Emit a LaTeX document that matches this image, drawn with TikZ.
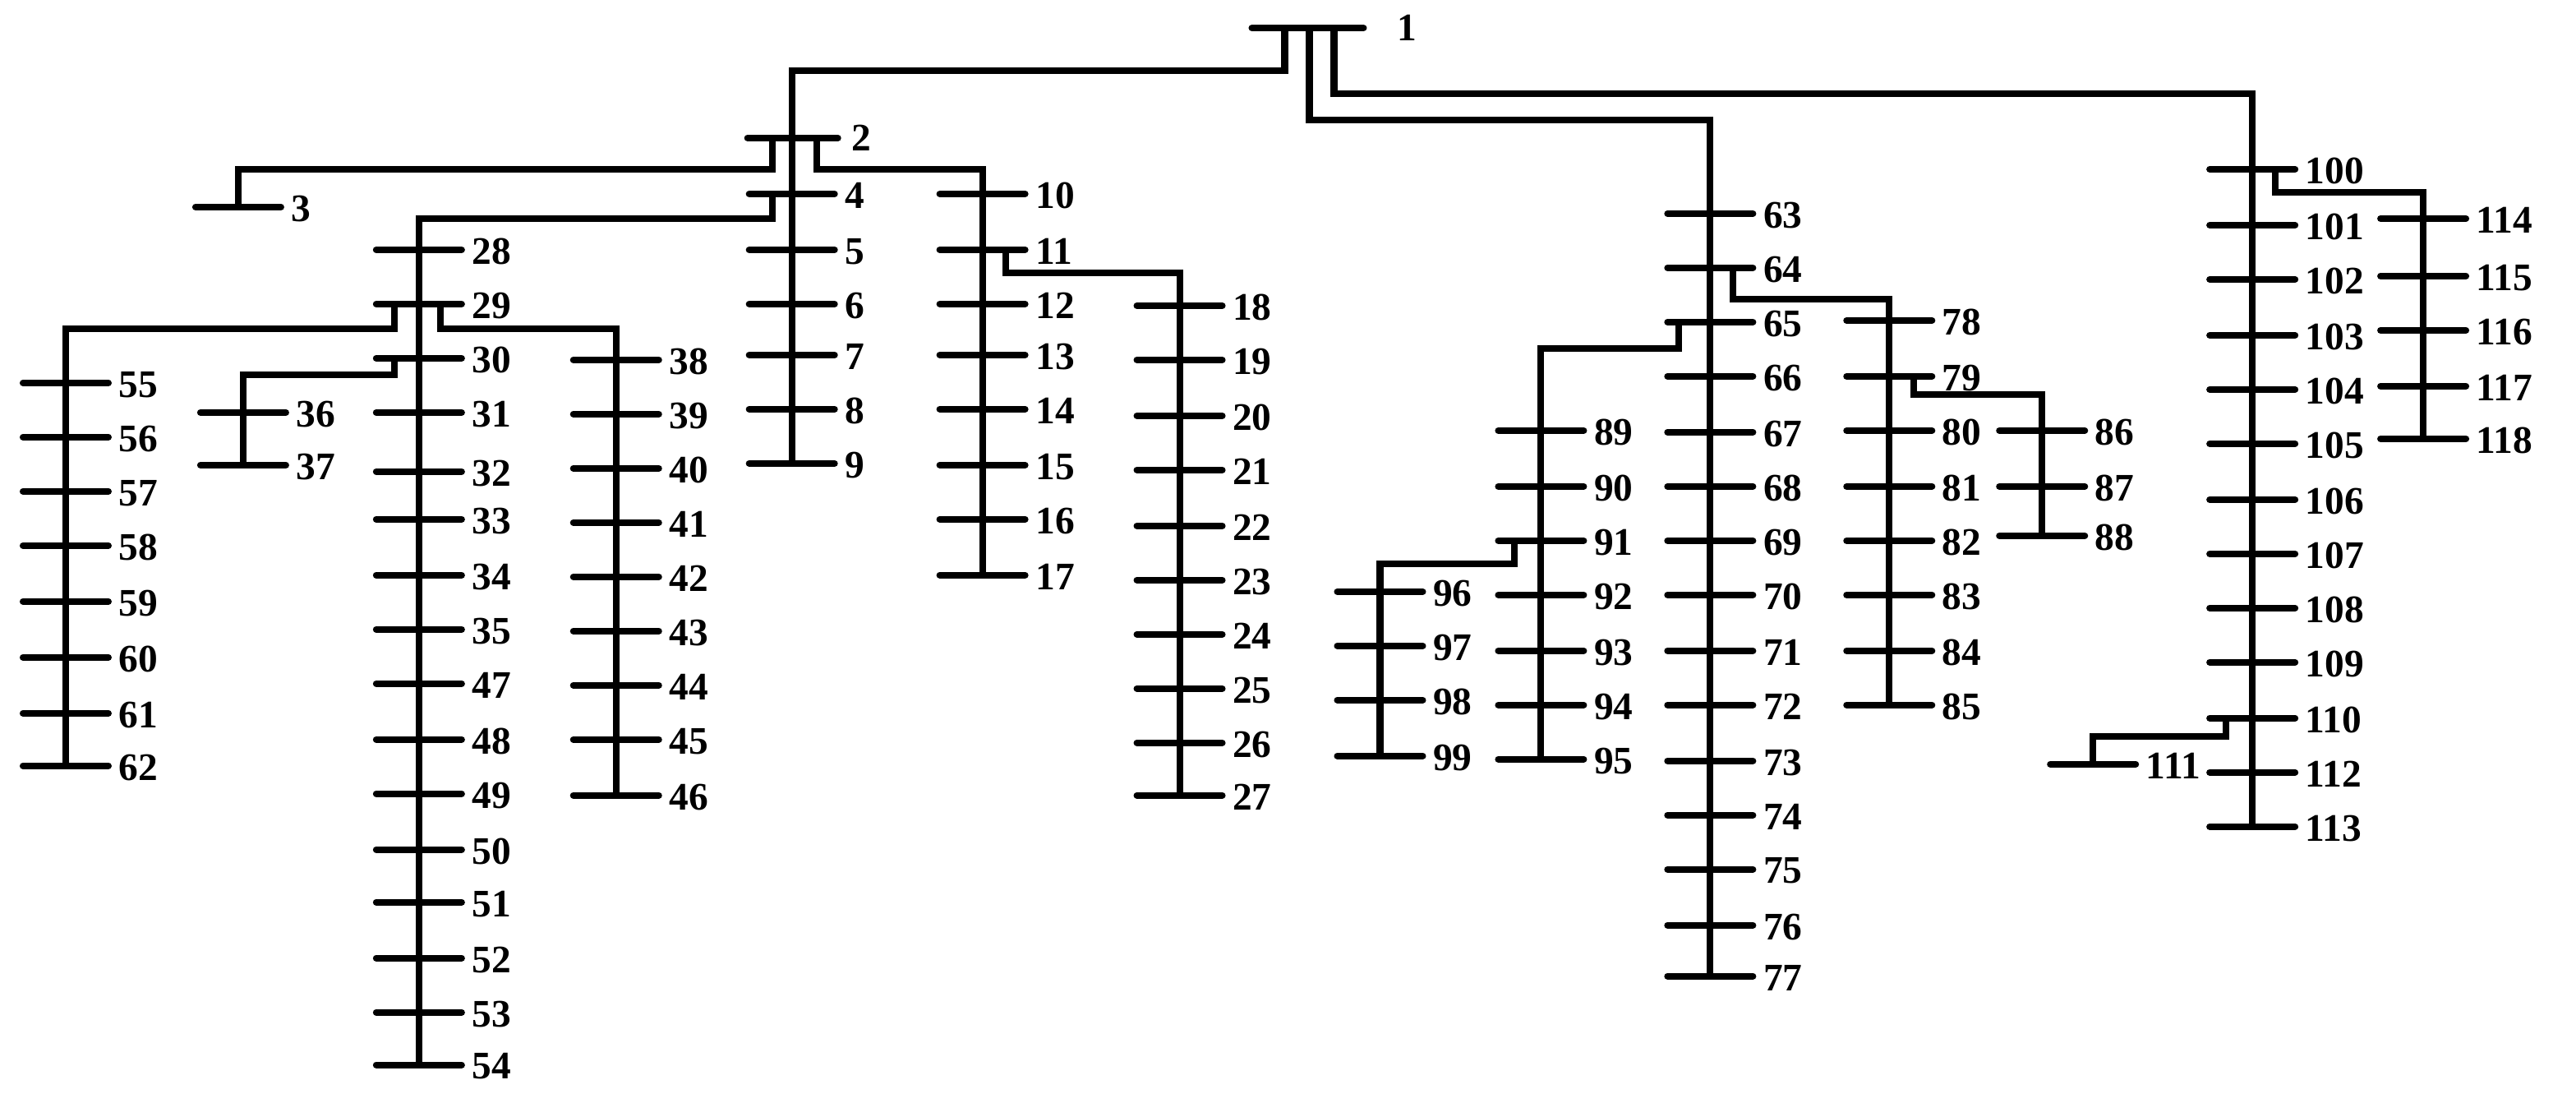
\documentclass[tikz,border=0pt]{standalone}
\usepackage{fontspec}
\setmainfont{Liberation Serif}
\usetikzlibrary{calc}

\tikzset{
  bar/.style={line width=2.3pt, line cap=round},
  line/.style={line width=2.3pt},
  lbl/.style={font=\bfseries\fontsize{13.5}{14}\selectfont, anchor=west, inner sep=0pt}
}
% a bus: name, x, y
\newcommand\bus[3]{%
  \coordinate (b#1) at (#2,#3);
  \draw[bar] ($(b#1)+(-26,0)$) -- ($(b#1)+(26,0)$);
  \node[lbl] (l#1) at ($(b#1)+(32,1)$) {#1};
}

\begin{document}
\begin{tikzpicture}[x=0.02cm, y=-0.02cm]
	\useasboundingbox (0,0) rectangle (1568,671);
	% substation and first level
	\coordinate (b1) at (796,17);
	\draw[bar] (762,17) -- (830,17);
	\node[lbl] (l1) at (850,17) {1};
	\coordinate (b2) at (482,84);
	\draw[bar] (455,84) -- (510,84);
	\node[lbl] (l2) at (518,84) {2};
	\bus{3}{145}{126}

	% columns
	\foreach \n/\y in {4/118, 5/152, 6/185, 7/216, 8/249, 9/282}
		\bus{\n}{482}{\y};
	\foreach \n/\y in {10/118, 11/152, 12/185, 13/216, 14/249, 15/283, 16/316, 17/350}
		\bus{\n}{598}{\y};
	\foreach \n/\y in {18/186, 19/219, 20/253, 21/286, 22/320, 23/353, 24/386, 25/419, 26/452, 27/484}
		\bus{\n}{718}{\y};
	\foreach \n/\y in {28/152, 29/185, 30/218, 31/251, 32/287, 33/316, 34/350, 35/383, 47/416, 48/450, 49/483, 50/517, 51/549, 52/583, 53/616, 54/648}
		\bus{\n}{255}{\y};
	\foreach \n/\y in {55/233, 56/266, 57/299, 58/332, 59/366, 60/400, 61/434, 62/466}
		\bus{\n}{40}{\y};
	\foreach \n/\y in {38/219, 39/252, 40/285, 41/318, 42/351, 43/384, 44/417, 45/450, 46/484}
		\bus{\n}{375}{\y};
	\foreach \n/\y in {36/251, 37/283}
		\bus{\n}{148}{\y};
	\foreach \n/\y in {63/130, 64/163, 65/196, 66/229, 67/263, 68/296, 69/329, 70/362, 71/396, 72/429, 73/463, 74/496, 75/529, 76/563, 77/594}
		\bus{\n}{1041}{\y};
	\foreach \n/\y in {78/195, 79/229, 80/262, 81/296, 82/329, 83/362, 84/396, 85/429}
		\bus{\n}{1150}{\y};
	\foreach \n/\y in {86/262, 87/296, 88/326}
		\bus{\n}{1243}{\y};
	\foreach \n/\y in {89/262, 90/296, 91/329, 92/362, 93/396, 94/429, 95/462}
		\bus{\n}{938}{\y};
	\foreach \n/\y in {96/360, 97/393, 98/426, 99/460}
		\bus{\n}{840}{\y};
	\foreach \n/\y in {100/103, 101/137, 102/170, 103/204, 104/237, 105/270, 106/304, 107/337, 108/370, 109/403, 110/437, 112/470, 113/503}
		\bus{\n}{1371}{\y};
	\foreach \n/\y in {114/133, 115/168, 116/201, 117/235, 118/267}
		\bus{\n}{1475}{\y};
	\bus{111}{1274}{465}

	% feeders
	\draw[line] ($(b1)+(-14,0)$) -- ++(0,26) -| (b2);
	\draw[line] ($(b1)+(1,0)$) -- ++(0,56) -| (b63);
	\draw[line] ($(b1)+(16,0)$) -- ++(0,40) -| (b100);
	\draw[line] ($(b2)+(-12,0)$) -- ++(0,19) -| (b3);
	\draw[line] ($(b2)+(15,0)$) -- ++(0,19) -| (b10);
	\draw[line] (b2) -- (b9);
	\draw[line] ($(b4)+(-12,0)$) -- ++(0,15) -| (b54);
	\draw[line] (b10) -- (b17);
	\draw[line] ($(b11)+(14,0)$) -- ++(0,14) -| (b27);
	\draw[line] ($(b29)+(-15,0)$) -- ++(0,15) -| (b62);
	\draw[line] ($(b29)+(13,0)$) -- ++(0,15) -| (b46);
	\draw[line] ($(b30)+(-15,0)$) -- ++(0,10) -| (b37);
	\draw[line] (b63) -- (b77);
	\draw[line] ($(b64)+(14,0)$) -- ++(0,19) -| (b85);
	\draw[line] ($(b79)+(15,0)$) -- ++(0,11) -| (b88);
	\draw[line] ($(b65)+(-19,0)$) -- ++(0,16) -| (b95);
	\draw[line] ($(b91)+(-16,0)$) -- ++(0,14) -| (b99);
	\draw[line] (b100) -- (b113);
	\draw[line] ($(b100)+(14,0)$) -- ++(0,14) -| (b118);
	\draw[line] ($(b110)+(-16,0)$) -- ++(0,11) -| (b111);
\end{tikzpicture}
\end{document}
